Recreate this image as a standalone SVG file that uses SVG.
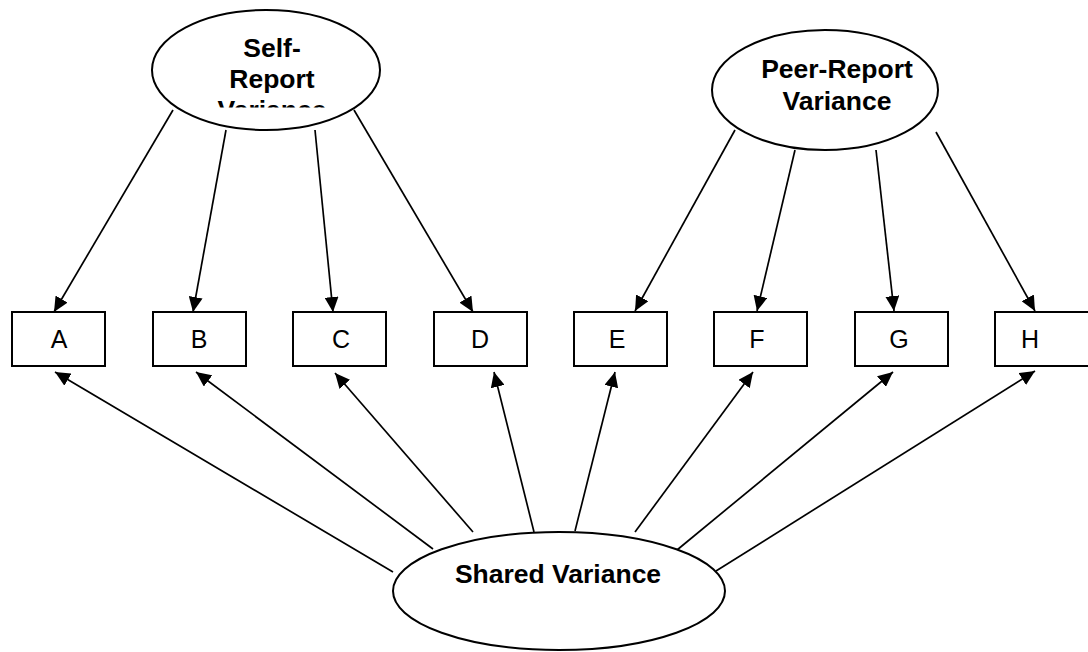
<svg xmlns="http://www.w3.org/2000/svg" width="1088" height="652" viewBox="0 0 1088 652">
<style>
.node ellipse,.node rect{fill:#fff;stroke:#000;stroke-width:2}
.lbl{font-family:"Liberation Sans",Arial,sans-serif;font-weight:bold;font-size:26.5px;text-anchor:middle;fill:#000}
.box{font-family:"Liberation Sans",Arial,sans-serif;font-size:25px;text-anchor:middle;fill:#000}
#connectors line{stroke:#000;stroke-width:1.7;marker-end:url(#ah)}
</style>
<defs>
<marker id="ah" markerUnits="userSpaceOnUse" markerWidth="16" markerHeight="14" refX="15" refY="7" orient="auto">
<path d="M0,0 L15,7 L0,14 z" fill="#000"/>
</marker>
<clipPath id="selfclip"><rect x="140" y="0" width="260" height="107.5"/></clipPath>
</defs>
<rect width="1088" height="652" fill="#fff"/>
<g id="connectors">
<line x1="173" y1="110" x2="54" y2="312"/>
<line x1="226" y1="130" x2="193" y2="312"/>
<line x1="315" y1="130" x2="333" y2="312"/>
<line x1="354" y1="110" x2="473" y2="312"/>
<line x1="735" y1="130" x2="635" y2="311"/>
<line x1="795" y1="150" x2="757" y2="311"/>
<line x1="876" y1="150" x2="894" y2="311"/>
<line x1="936" y1="132" x2="1035" y2="311"/>
<line x1="393" y1="572" x2="55" y2="372"/>
<line x1="433" y1="549" x2="196" y2="372"/>
<line x1="473" y1="532" x2="335" y2="373"/>
<line x1="534" y1="532" x2="494" y2="372"/>
<line x1="575" y1="531" x2="615" y2="372"/>
<line x1="635" y1="532" x2="753" y2="372"/>
<line x1="677" y1="550" x2="893" y2="372"/>
<line x1="716" y1="571" x2="1035" y2="371"/>
</g>
<g id="self-report" class="node">
<ellipse cx="266" cy="70" rx="114" ry="60"/>
<g clip-path="url(#selfclip)">
<text class="lbl" x="272" y="57">Self-</text>
<text class="lbl" x="272" y="88">Report</text>
<text class="lbl" x="272" y="119">Variance</text>
</g>
</g>
<g id="peer-report" class="node">
<ellipse cx="825" cy="90" rx="113" ry="60"/>
<text class="lbl" x="837" y="78">Peer-Report</text>
<text class="lbl" x="837" y="110">Variance</text>
</g>
<g id="shared" class="node">
<ellipse cx="559" cy="591" rx="166" ry="59"/>
<text class="lbl" x="558" y="583">Shared Variance</text>
</g>
<g id="box-A" class="node"><rect x="12" y="312" width="93" height="54"/><text class="box" x="59" y="348">A</text></g>
<g id="box-B" class="node"><rect x="153" y="312" width="93" height="54"/><text class="box" x="199" y="348">B</text></g>
<g id="box-C" class="node"><rect x="293" y="312" width="93" height="54"/><text class="box" x="341" y="348">C</text></g>
<g id="box-D" class="node"><rect x="434" y="312" width="93" height="54"/><text class="box" x="480" y="348">D</text></g>
<g id="box-E" class="node"><rect x="574" y="312" width="93" height="54"/><text class="box" x="617" y="348">E</text></g>
<g id="box-F" class="node"><rect x="714" y="312" width="93" height="54"/><text class="box" x="757" y="348">F</text></g>
<g id="box-G" class="node"><rect x="855" y="312" width="93" height="54"/><text class="box" x="899" y="348">G</text></g>
<g id="box-H" class="node"><rect x="995" y="312" width="100" height="54"/><text class="box" x="1030" y="348">H</text></g>
</svg>
